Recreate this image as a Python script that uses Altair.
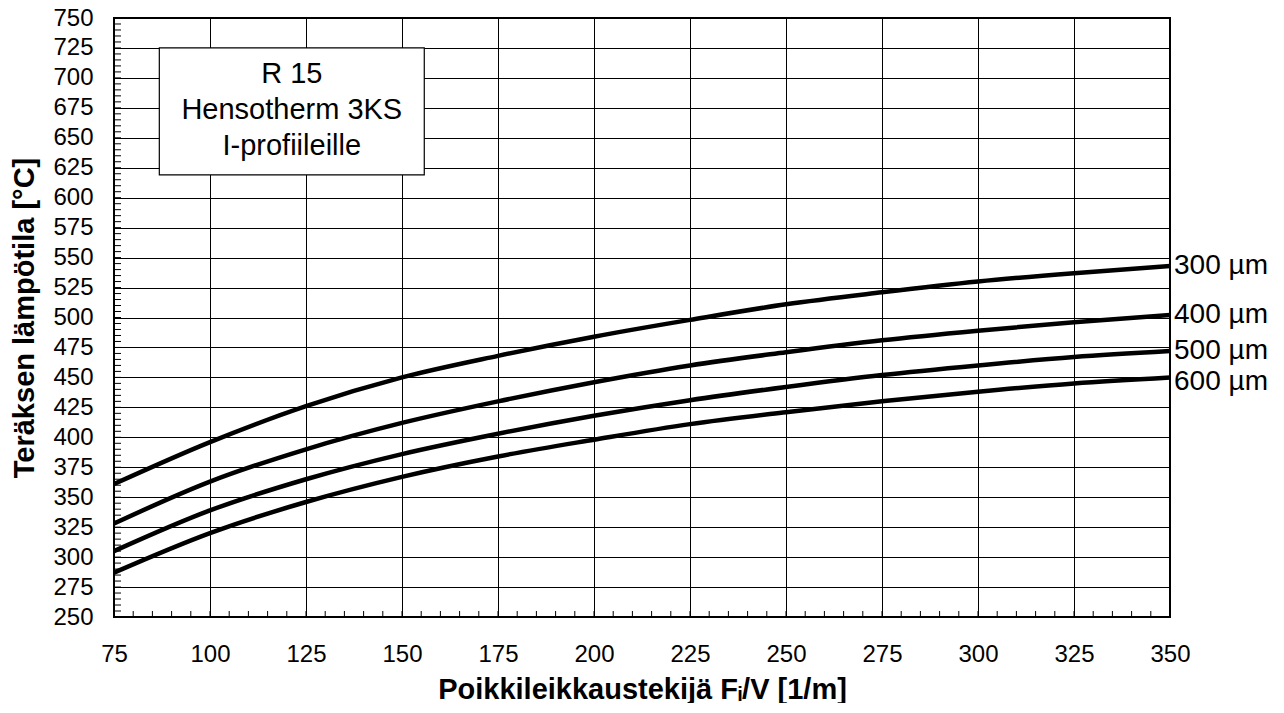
import altair as alt
import pandas as pd

# ---- data ----
x_vals = [75, 100, 125, 150, 175, 200, 225, 250, 275, 300, 325, 350]
t300 = [361, 396, 426, 450, 468, 484, 498, 511, 521, 530, 537, 543]
t400 = [328, 363, 390, 412, 430, 446, 460, 471, 481, 489, 496, 502]
t500 = [305, 339, 365, 386, 403, 418, 431, 442, 452, 460, 467, 472]
t600 = [287, 320, 346, 367, 384, 398, 411, 421, 430, 438, 445, 450]
series_names = ["300 µm", "400 µm", "500 µm", "600 µm"]
label_y = [543, 502, 472, 446]

x_ticks = list(range(75, 351, 25))
y_ticks = list(range(250, 751, 25))
x_minor = list(range(75, 351, 5))
y_minor = list(range(250, 751, 5))

box_x = [86.8, 155.8]
box_y = [619, 725]
box_text = ["R 15", "Hensotherm 3KS", "I-profiileille"]
box_line_y = [703, 673, 643]

# ---- tables ----
rows = []
for name, vals in zip(series_names, [t300, t400, t500, t600]):
    for xv, yv in zip(x_vals, vals):
        rows.append({"series": name, "x": xv, "y": yv})
lines_df = pd.DataFrame(rows)
labels_df = pd.DataFrame({"series": series_names, "x": [x_vals[-1]] * 4, "y": label_y})
xminor_df = pd.DataFrame({"x": x_minor})
yminor_df = pd.DataFrame({"y": y_minor})
box_df = pd.DataFrame({"x": [box_x[0]], "x2": [box_x[1]], "y": [box_y[0]], "y2": [box_y[1]]})
text_df = pd.DataFrame({"x": [sum(box_x) / 2] * 3, "y": box_line_y, "t": box_text})

FONT = "Liberation Sans"
W, H = 1056, 599

xscale = alt.Scale(domain=[75, 350], nice=False, zero=False)
yscale = alt.Scale(domain=[250, 750], nice=False, zero=False)

xaxis = alt.Axis(
    values=x_ticks, grid=True, gridColor="#000000", gridWidth=1, ticks=False, domain=False,
    labelFontSize=24, labelColor="#000000", labelFont=FONT, labelBaseline="alphabetic",
    labelPadding=44, labelFlush=False,
    title="Poikkileikkaustekijä Fᵢ/V [1/m]", titleFontSize=29, titleFont=FONT,
    titleFontWeight="bold", titleColor="#000000", titleBaseline="alphabetic",
    titleY=81, titleX=W / 2, titleAlign="center",
)
yaxis = alt.Axis(
    values=y_ticks, grid=True, gridColor="#000000", gridWidth=1, ticks=False, domain=False,
    labelFontSize=24, labelColor="#000000", labelFont=FONT, labelPadding=21, labelFlush=False,
    title="Teräksen lämpötila [°C]", titleFontSize=29, titleFont=FONT,
    titleFontWeight="bold", titleColor="#000000", titleBaseline="alphabetic",
    titleX=-81, titleY=H / 2, titleAlign="center", titleAngle=270,
)

X = alt.X("x:Q", scale=xscale, axis=xaxis)
Y = alt.Y("y:Q", scale=yscale, axis=yaxis)

lines = alt.Chart(lines_df).mark_line(color="#000000", strokeWidth=4.5, interpolate="monotone").encode(
    x=X, y=Y, detail="series:N"
)

labels = alt.Chart(labels_df).mark_text(
    align="left", baseline="middle", dx=4, fontSize=28, font=FONT, color="#000000"
).encode(x=X, y=Y, text="series:N")

xminor = alt.Chart(xminor_df).mark_rule(color="#000000", strokeWidth=1).encode(
    x=X, y=alt.value(H), y2=alt.value(H - 6)
)
yminor = alt.Chart(yminor_df).mark_rule(color="#000000", strokeWidth=1).encode(
    y=Y, x=alt.value(0), x2=alt.value(7)
)

box = alt.Chart(box_df).mark_rect(fill="#ffffff", stroke="#000000", strokeWidth=1.2).encode(
    x=X, x2="x2:Q", y=Y, y2="y2:Q"
)
box_txt = alt.Chart(text_df).mark_text(
    align="center", baseline="middle", fontSize=29, font=FONT, color="#000000"
).encode(x=X, y=Y, text="t:N")

chart = alt.layer(xminor, yminor, lines, box, box_txt, labels).properties(
    width=W, height=H,
    autosize=alt.AutoSizeParams(type="none"),
    padding={"left": 106, "top": 10, "right": 100, "bottom": 86},
    background="#ffffff",
).configure_view(stroke="#000000", strokeWidth=2)

chart.save("out.html", embed_options={"renderer": "svg", "actions": False})
